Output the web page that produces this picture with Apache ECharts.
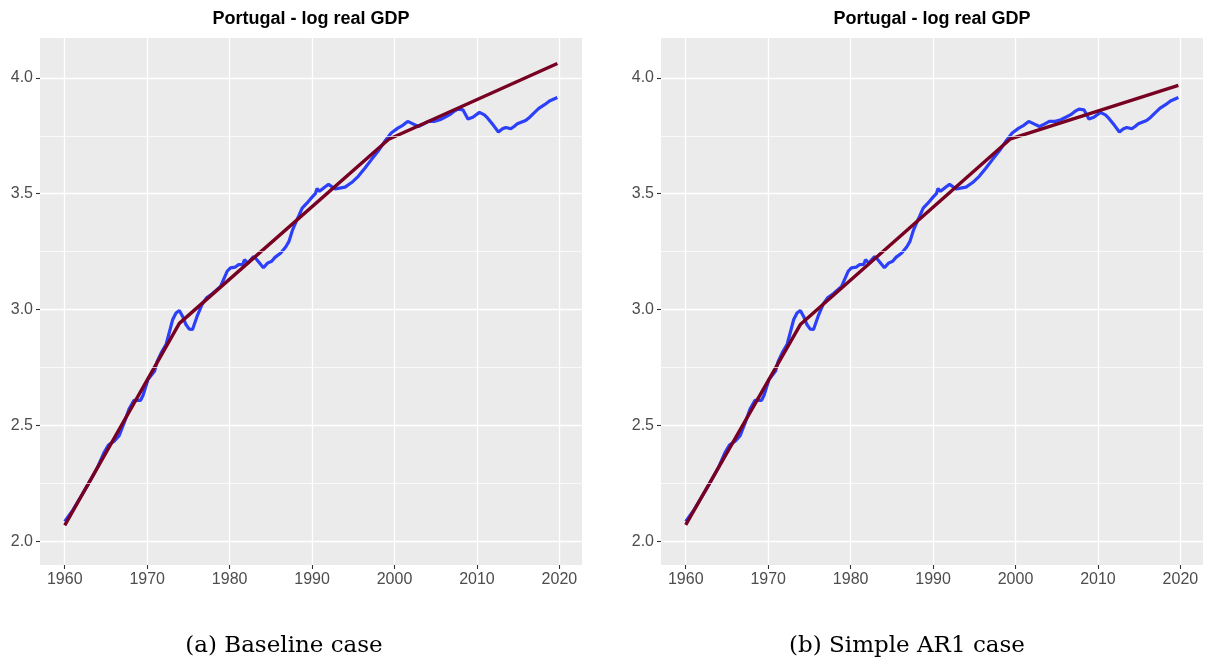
<!DOCTYPE html>
<html>
<head>
<meta charset="utf-8">
<script src="https://cdn.jsdelivr.net/npm/echarts@6/dist/echarts.min.js"></script>
<style>
  html, body { margin: 0; padding: 0; background: #fff; }
  #main { width: 1209px; height: 658px; }
</style>
</head>
<body>
<div id="main"></div>
<script>
// log real GDP
var gdpYears = [1960.0, 1961.0, 1962.0, 1963.0, 1964.0, 1964.8, 1965.3, 1966.0, 1966.6, 1967.2,
  1967.8, 1968.4, 1969.2, 1969.5, 1970.1, 1970.9, 1971.2, 1971.7, 1972.3, 1972.6,
  1973.1, 1973.5, 1973.9, 1974.3, 1974.7, 1975.1, 1975.5, 1976.1, 1976.7, 1977.2,
  1977.9, 1978.9, 1979.7, 1980.1, 1980.7, 1981.1, 1981.6, 1981.8, 1982.2, 1982.9,
  1983.3, 1984.1, 1984.6, 1985.1, 1985.5, 1986.2, 1986.8, 1987.2, 1987.6, 1988.0,
  1988.4, 1988.8, 1989.4, 1990.0, 1990.4, 1990.6, 1990.9, 1991.6, 1992.0, 1992.8,
  1993.5, 1994.0, 1994.8, 1995.6, 1996.4, 1997.2, 1998.0, 1998.8, 1999.6, 2000.4,
  2001.0, 2001.6, 2002.3, 2002.9, 2003.5, 2004.1, 2004.8, 2005.5, 2006.1, 2006.7,
  2007.2, 2007.7, 2008.3, 2008.9, 2009.5, 2010.3, 2010.9, 2011.3, 2012.0, 2012.6,
  2013.1, 2013.5, 2014.1, 2014.5, 2014.9, 2015.9, 2016.4, 2016.9, 2017.5, 2018.2,
  2018.8, 2019.75];
var gdpValues = [2.085, 2.135, 2.195, 2.255, 2.320, 2.385, 2.415, 2.432, 2.455, 2.510,
  2.570, 2.608, 2.608, 2.630, 2.698, 2.734, 2.775, 2.813, 2.850, 2.890,
  2.957, 2.985, 2.996, 2.970, 2.935, 2.915, 2.914, 2.975, 3.025, 3.050,
  3.068, 3.100, 3.165, 3.180, 3.183, 3.194, 3.195, 3.215, 3.200, 3.228,
  3.215, 3.180, 3.200, 3.208, 3.225, 3.244, 3.270, 3.294, 3.340, 3.374,
  3.405, 3.438, 3.460, 3.485, 3.500, 3.522, 3.510, 3.530, 3.540, 3.520,
  3.525, 3.528, 3.548, 3.575, 3.610, 3.647, 3.683, 3.725, 3.762, 3.783,
  3.795, 3.812, 3.800, 3.790, 3.800, 3.812, 3.812, 3.819, 3.830, 3.841,
  3.855, 3.865, 3.862, 3.822, 3.830, 3.851, 3.840, 3.826, 3.795, 3.766,
  3.780, 3.786, 3.780, 3.790, 3.802, 3.816, 3.830, 3.848, 3.868, 3.884,
  3.900, 3.915];

// fitted piecewise trends
var baseYears = [1960.0, 1973.9, 1999.3, 2019.75];
var baseTrend = [2.068, 2.940, 3.735, 4.062];
var ar1Years = [1960.0, 1973.9, 1999.4, 2019.75];
var ar1Trend = [2.070, 2.935, 3.737, 3.968];

var xTicks = [1960, 1970, 1980, 1990, 2000, 2010, 2020];
var yTicks = [2.0, 2.5, 3.0, 3.5, 4.0];
var yMinor = [2.25, 2.75, 3.25, 3.75];

var titleText = 'Portugal - log real GDP';
var captions = ['(a) Baseline case', '(b) Simple AR1 case'];

function pairs(xs, ys) {
  return xs.map(function (x, i) { return [x, ys[i]]; });
}

var myChart = echarts.init(document.getElementById('main'));

var grids = [
  {left: 40, width: 542, top: 38, bottom: 93},
  {left: 661, width: 542, top: 38, bottom: 93}
];

function makeX(i) {
  return {
    type: 'value', gridIndex: i, min: 1957.0, max: 2022.74, splitNumber: 6,
    axisLine: {show: false},
    axisTick: {show: true, length: 4, lineStyle: {color: '#333333', width: 1.1}, customValues: xTicks},
    axisLabel: {customValues: xTicks, color: '#4D4D4D', fontSize: 16, margin: 7,
      fontFamily: 'Liberation Sans, Arial, sans-serif',
      formatter: function (v) { return String(v); }},
    splitLine: {show: true, lineStyle: {color: '#FFFFFF', width: 1.3}}
  };
}
function makeY(i) {
  return {
    type: 'value', gridIndex: i, min: 1.897, max: 4.172, splitNumber: 5,
    axisLine: {show: false},
    axisTick: {show: true, length: 4, lineStyle: {color: '#333333', width: 1.1}, customValues: yTicks},
    axisLabel: {customValues: yTicks, color: '#4D4D4D', fontSize: 16, margin: 7,
      fontFamily: 'Liberation Sans, Arial, sans-serif',
      formatter: function (v) { return v.toFixed(1); }},
    splitLine: {show: true, lineStyle: {color: '#FFFFFF', width: 1.3}}
  };
}

function minorSeries(i) {
  return {
    type: 'line', xAxisIndex: i, yAxisIndex: i, data: [], z: 1, silent: true,
    markLine: {
      silent: true, symbol: 'none', animation: false,
      label: {show: false},
      lineStyle: {color: '#FFFFFF', width: 0.7, type: 'solid'},
      data: yMinor.map(function (v) { return {yAxis: v}; })
    }
  };
}
function gdpSeries(i) {
  return {
    type: 'line', xAxisIndex: i, yAxisIndex: i, data: pairs(gdpYears, gdpValues),
    showSymbol: false, z: 3, lineStyle: {color: '#2B40F8', width: 3.2}
  };
}
function trendSeries(i, xs, ys) {
  return {
    type: 'line', xAxisIndex: i, yAxisIndex: i, data: pairs(xs, ys),
    showSymbol: false, z: 4, lineStyle: {color: '#780022', width: 3.4}
  };
}

option = {
  animation: false,
  backgroundColor: '#FFFFFF',
  grid: grids.map(function (g) {
    return Object.assign({show: true, backgroundColor: '#EBEBEB', borderWidth: 0}, g);
  }),
  xAxis: [makeX(0), makeX(1)],
  yAxis: [makeY(0), makeY(1)],
  series: [
    minorSeries(0), minorSeries(1),
    gdpSeries(0), trendSeries(0, baseYears, baseTrend),
    gdpSeries(1), trendSeries(1, ar1Years, ar1Trend)
  ],
  graphic: [
    {type: 'text', x: 311, y: 19, style: {text: titleText, align: 'center', verticalAlign: 'middle',
      font: 'bold 18px "Liberation Sans", Arial, sans-serif', fill: '#000000'}},
    {type: 'text', x: 932, y: 19, style: {text: titleText, align: 'center', verticalAlign: 'middle',
      font: 'bold 18px "Liberation Sans", Arial, sans-serif', fill: '#000000'}},
    {type: 'text', x: 284, y: 646, style: {text: captions[0], align: 'center', verticalAlign: 'middle',
      font: '23px "DejaVu Serif", serif', fill: '#000000'}},
    {type: 'text', x: 907, y: 646, style: {text: captions[1], align: 'center', verticalAlign: 'middle',
      font: '23px "DejaVu Serif", serif', fill: '#000000'}}
  ]
};

myChart.setOption(option);
</script>
</body>
</html>
